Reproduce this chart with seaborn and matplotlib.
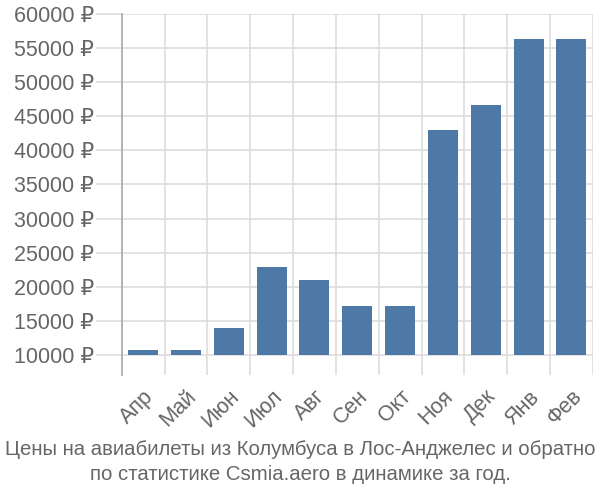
import matplotlib
matplotlib.use("Agg")
import matplotlib.pyplot as plt
import matplotlib.ticker as mticker
import seaborn as sns
import pandas as pd
import numpy as np

months = ["Апр", "Май", "Июн", "Июл", "Авг", "Сен", "Окт", "Ноя", "Дек", "Янв", "Фев"]
prices = [10700, 10700, 13950, 22900, 21000, 17200, 17200, 43000, 46600, 56300, 56300]
yticks = [10000, 15000, 20000, 25000, 30000, 35000, 40000, 45000, 50000, 55000, 60000]
base = 10000
title = "Цены на авиабилеты из Колумбуса в Лос-Анджелес и обратно\nпо статистике Csmia.aero в динамике за год."

sns.set_theme(style="white")
plt.rcParams['font.family'] = ['Liberation Sans', 'DejaVu Sans']

df = pd.DataFrame({"month": months, "height": [p - base for p in prices]})

fig = plt.figure(figsize=(6, 5), dpi=100)
ax = fig.add_axes([0.203, 0.25, 0.785, 0.722])

sns.barplot(data=df, x="month", y="height", color="#4e79a7", saturation=1,
            width=0.7, ax=ax, bottom=base, edgecolor="none", zorder=3)

ax.set_ylim(7050, 60000)
ax.set_xlim(-0.5, len(months) - 0.5)
ax.set_yticks(yticks)
ax.yaxis.set_major_formatter(mticker.FuncFormatter(lambda v, p: f"{int(v)} ₽"))
ax.set_xticks(range(len(months)))
ax.set_xticklabels(months, rotation=45, ha="right", rotation_mode="anchor")
ax.set_xticks(np.arange(-0.5, len(months)), minor=True)

ax.grid(axis="y", which="major", color="#dddddd", linewidth=1.2, zorder=0)
ax.grid(axis="x", which="minor", color="#dddddd", linewidth=1.2, zorder=0)
ax.grid(axis="x", which="major", visible=False)

ax.tick_params(axis="y", which="major", length=19, color="#dddddd", width=1.2,
               labelsize=15.5, labelcolor="#666666", pad=1, left=True)
ax.tick_params(axis="x", which="major", length=0, labelsize=15.5, labelcolor="#666666", pad=8)
ax.tick_params(axis="x", which="minor", length=0)

for s in ["top", "right", "bottom"]:
    ax.spines[s].set_visible(False)
ax.spines["left"].set_color("#aaaaaa")
ax.spines["left"].set_linewidth(1.2)
ax.set_xlabel("")
ax.set_ylabel("")

fig.text(0.5, 0.076, title, ha="center", va="center", fontsize=14.7,
         color="#666666", linespacing=1.45)

fig.savefig("out.png", dpi=100)
